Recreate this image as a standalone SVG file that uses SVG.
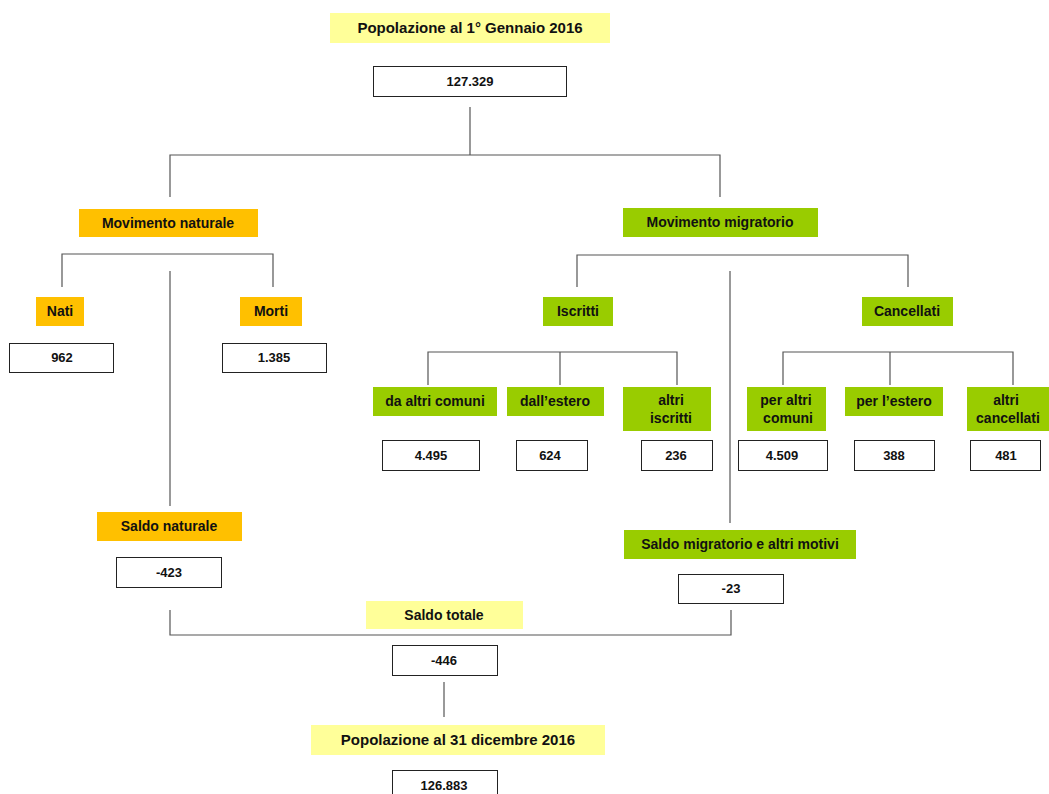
<svg xmlns="http://www.w3.org/2000/svg" width="1049" height="794" viewBox="0 0 1049 794">
<style>
.bg{fill:#fff}
.ly{fill:#FFFF99}
.gd{fill:#FFC000}
.gr{fill:#99CC00}
.bx{fill:#fff;stroke:#222;stroke-width:1}
.t{font-family:"Liberation Sans",Arial,sans-serif;font-weight:bold;font-size:14px;fill:#111;text-anchor:middle}
.n{font-family:"Liberation Sans",Arial,sans-serif;font-weight:bold;font-size:13px;fill:#111;text-anchor:middle}
.tl{font-family:"Liberation Sans",Arial,sans-serif;font-weight:bold;font-size:15px;fill:#111;text-anchor:middle}
.c{stroke:#555;stroke-width:1.2;fill:none}
</style>
<rect class="bg" x="0" y="0" width="1049" height="794"/>
<g id="connectors">
<path class="c" d="M470 107V155M170 197V155H720V197"/>
<path class="c" d="M62 287V254H273V287"/>
<path class="c" d="M170 271V506"/>
<path class="c" d="M577 287V255H908V287"/>
<path class="c" d="M730 271V523"/>
<path class="c" d="M428 385V352H677V385M560 352V385"/>
<path class="c" d="M783 385V352H1013V385M890 352V385"/>
<path class="c" d="M170 610V635H731V610"/>
<path class="c" d="M444 682V717"/>
</g>
<g id="pop2016"><rect class="ly" x="330" y="13" width="280" height="30"/><text class="tl" x="470" y="33">Popolazione al 1° Gennaio 2016</text></g>
<g id="v127329"><rect class="bx" x="373.5" y="66.5" width="193" height="30"/><text class="n" x="470" y="86">127.329</text></g>
<g id="movnat"><rect class="gd" x="79" y="209" width="179" height="28"/><text class="t" x="168" y="228">Movimento naturale</text></g>
<g id="movmig"><rect class="gr" x="623" y="208" width="195" height="29"/><text class="t" x="720" y="227">Movimento migratorio</text></g>
<g id="nati"><rect class="gd" x="36" y="297" width="48" height="29"/><text class="t" x="60" y="316">Nati</text></g>
<g id="morti"><rect class="gd" x="240" y="297" width="62" height="29"/><text class="t" x="271" y="316">Morti</text></g>
<g id="v962"><rect class="bx" x="9.5" y="343.5" width="104" height="29"/><text class="n" x="62" y="362">962</text></g>
<g id="v1385"><rect class="bx" x="222.5" y="343.5" width="104" height="29"/><text class="n" x="274" y="362">1.385</text></g>
<g id="iscritti"><rect class="gr" x="543" y="297" width="70" height="29"/><text class="t" x="578" y="316">Iscritti</text></g>
<g id="cancellati"><rect class="gr" x="862" y="297" width="91" height="29"/><text class="t" x="907" y="316">Cancellati</text></g>
<g id="daaltri"><rect class="gr" x="373" y="387" width="124" height="29"/><text class="t" x="435" y="406">da altri comuni</text></g>
<g id="dallestero"><rect class="gr" x="507" y="387" width="97" height="29"/><text class="t" x="555" y="406">dall’estero</text></g>
<g id="altriiscritti"><rect class="gr" x="623" y="387" width="88" height="44"/><text class="t" x="671" y="405">altri</text><text class="t" x="671" y="423">iscritti</text></g>
<g id="peraltri"><rect class="gr" x="747" y="387" width="79" height="44"/><text class="t" x="786" y="405">per altri</text><text class="t" x="788" y="423">comuni</text></g>
<g id="perlestero"><rect class="gr" x="845" y="387" width="98" height="29"/><text class="t" x="894" y="406">per l’estero</text></g>
<g id="altricanc"><rect class="gr" x="967" y="387" width="82" height="44"/><text class="t" x="1006" y="405">altri</text><text class="t" x="1008" y="423">cancellati</text></g>
<g id="v4495"><rect class="bx" x="382.5" y="440.5" width="97" height="30"/><text class="n" x="431" y="460">4.495</text></g>
<g id="v624"><rect class="bx" x="516.5" y="440.5" width="71" height="30"/><text class="n" x="550" y="460">624</text></g>
<g id="v236"><rect class="bx" x="641.5" y="440.5" width="71" height="30"/><text class="n" x="676" y="460">236</text></g>
<g id="v4509"><rect class="bx" x="738.5" y="440.5" width="89" height="30"/><text class="n" x="782" y="460">4.509</text></g>
<g id="v388"><rect class="bx" x="854.5" y="440.5" width="80" height="30"/><text class="n" x="894" y="460">388</text></g>
<g id="v481"><rect class="bx" x="970.5" y="440.5" width="70" height="30"/><text class="n" x="1006" y="460">481</text></g>
<g id="saldonat"><rect class="gd" x="97" y="512" width="145" height="29"/><text class="t" x="169" y="531">Saldo naturale</text></g>
<g id="v423"><rect class="bx" x="116.5" y="557.5" width="105" height="30"/><text class="n" x="169" y="577">-423</text></g>
<g id="saldomig"><rect class="gr" x="624" y="530" width="232" height="29"/><text class="t" x="740" y="549">Saldo migratorio  e altri motivi</text></g>
<g id="v23"><rect class="bx" x="678.5" y="574.5" width="105" height="29"/><text class="n" x="731" y="593">-23</text></g>
<g id="saldotot"><rect class="ly" x="366" y="601" width="157" height="28"/><text class="t" x="444" y="620">Saldo totale</text></g>
<g id="v446"><rect class="bx" x="392.5" y="645.5" width="105" height="30"/><text class="n" x="444" y="665">-446</text></g>
<g id="pop31"><rect class="ly" x="311" y="725" width="294" height="30"/><text class="tl" x="458" y="745">Popolazione al 31 dicembre 2016</text></g>
<g id="v126883"><rect class="bx" x="392.5" y="770.5" width="105" height="30"/><text class="n" x="444" y="790">126.883</text></g>
</svg>
